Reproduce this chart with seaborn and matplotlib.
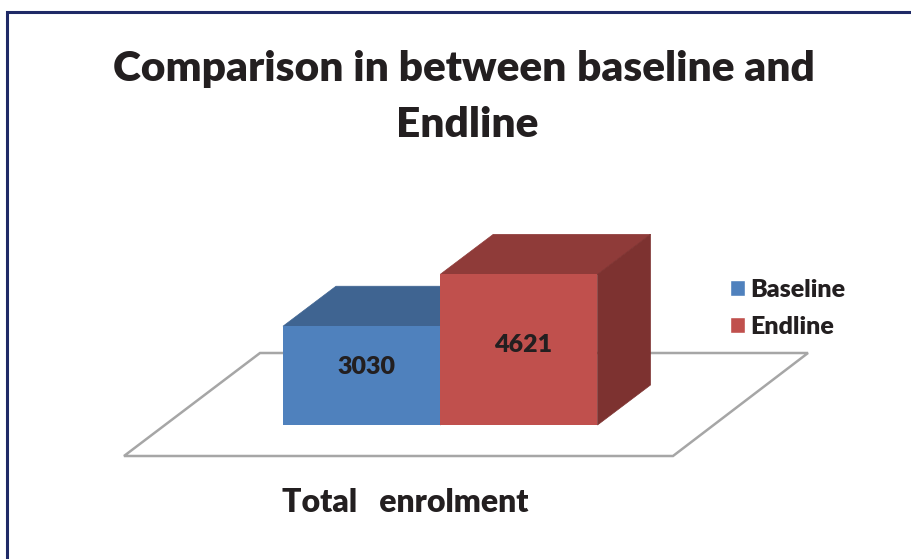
import matplotlib
matplotlib.use("Agg")
import matplotlib.pyplot as plt
import pandas as pd
import seaborn as sns
from matplotlib.lines import Line2D
from matplotlib.patches import Polygon

# Enrolment figures
series = ["Baseline", "Endline"]
values = [3030, 4621]
category = "Total   enrolment"
front_colors = ["#4F81BD", "#C0504D"]
top_colors = ["#3F6491", "#8F3B39"]
side_colors = ["#3A5D87", "#7D3230"]

W, H = 912, 559
INK = "#231F20"
WEIGHT = "heavy"


def fx(px):
    return px / W


def fy(px):
    return 1 - px / H


sns.set_theme(style="white")
plt.rcParams["font.family"] = ["Lato", "DejaVu Sans"]
plt.rcParams["font.weight"] = WEIGHT

fig = plt.figure(figsize=(W / 100, H / 100), dpi=100, facecolor="white")

# Axes span the front faces of the two blocks
left, right, base = 283, 597.5, 425
px_per_unit = 0.0326
ax_height = max(values) * px_per_unit
ax = fig.add_axes([fx(left), fy(base), (right - left) / W, ax_height / H])
ax.patch.set_visible(False)

df = pd.DataFrame({"group": [category] * 2, "series": series, "value": values})
sns.barplot(data=df, x="group", y="value", hue="series", palette=front_colors,
            width=1.0, gap=0, saturation=1, ax=ax, zorder=3)
ax.set_xlim(-0.5, 0.5)
ax.set_ylim(0, max(values))

# Extrude each block backwards for the box look
depth_x = 53 / (right - left)
depth_y = 40 / px_per_unit
bars = ax.containers
for i, container in enumerate(bars):
    bar = container[0]
    bar.set_edgecolor("none")
    x0, x1 = bar.get_x(), bar.get_x() + bar.get_width()
    h = bar.get_height()
    order = 2 + i
    ax.add_patch(Polygon([(x0, h), (x0 + depth_x, h + depth_y),
                          (x1 + depth_x, h + depth_y), (x1, h)],
                         facecolor=top_colors[i], edgecolor=top_colors[i], linewidth=0.5,
                         clip_on=False, zorder=order))
    ax.add_patch(Polygon([(x1, 0), (x1 + depth_x, depth_y),
                          (x1 + depth_x, h + depth_y), (x1, h)],
                         facecolor=side_colors[i], edgecolor=side_colors[i], linewidth=0.5,
                         clip_on=False, zorder=order))
    bar.set_zorder(order + 0.5)

# Value labels sit on the front faces
label_fraction = [0.59, 0.53]
for i, container in enumerate(bars):
    bar = container[0]
    ax.text(bar.get_x() + bar.get_width() / 2 + 0.015,
            bar.get_height() * label_fraction[i], str(values[i]),
            ha="center", va="center", fontsize=18, fontweight=WEIGHT,
            color=INK, zorder=10, clip_on=False)

ax.set_axis_off()

# Floor plane under the blocks
floor = Polygon([(fx(124), fy(456)), (fx(260), fy(353)), (fx(808), fy(353)), (fx(673), fy(456))],
                closed=True, transform=fig.transFigure, facecolor="white",
                edgecolor="#A6A6A6", linewidth=1.8, zorder=-1)
fig.add_artist(floor)

# Navy frame: only the left and top sides fall inside the canvas
fig.add_artist(Line2D([fx(7.5), fx(7.5), fx(912)], [fy(559), fy(12), fy(12)],
                      color="#1F2A66", linewidth=2.2, solid_joinstyle="miter",
                      transform=fig.transFigure))

# Title lines
fig.text(fx(340), fy(69), "Comparison in between", ha="center", va="center",
         fontsize=30.5, fontweight=WEIGHT, color=INK)
fig.text(fx(695.5), fy(69), "baseline and", ha="center", va="center",
         fontsize=30.5, fontweight=WEIGHT, color=INK)
fig.text(fx(467), fy(125), "Endline", ha="center", va="center",
         fontsize=30.5, fontweight=WEIGHT, color=INK)

# Category label below the floor
fig.text(fx(405.5), fy(503), category, ha="center", va="center",
         fontsize=23, fontweight=WEIGHT, color=INK)

sns.move_legend(ax, "center left", bbox_to_anchor=(fx(730), fy(308.5)),
                bbox_transform=fig.transFigure, frameon=False, title=None,
                fontsize=18, handlelength=0.6, handleheight=0.6,
                handletextpad=0.2, labelspacing=0.6, borderpad=0, borderaxespad=0)
for txt in ax.get_legend().get_texts():
    txt.set_color(INK)
    txt.set_fontweight(WEIGHT)
ax.get_legend().set_visible(True)

fig.savefig("out.png", dpi=100)
